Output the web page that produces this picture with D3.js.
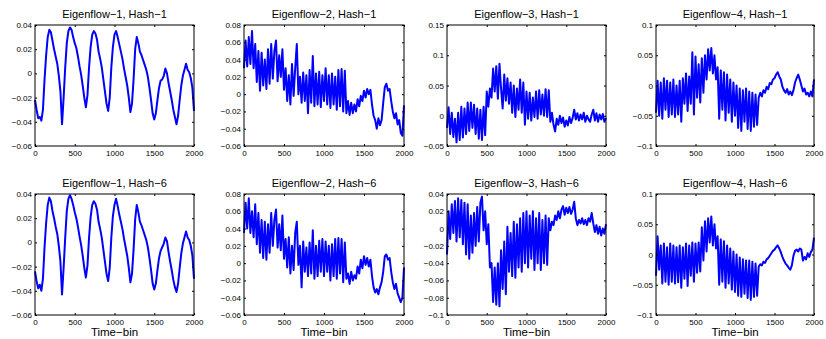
<!DOCTYPE html>
<html lang="en">
<head>
<meta charset="UTF-8">
<title>Eigenflows</title>
<script src="https://d3js.org/d3.v7.min.js"></script>
<style>
  body { margin: 0; background: #fff; }
  text { font-family: Helvetica, Arial, "Liberation Sans", sans-serif; }
</style>
</head>
<body>
<svg id="chart"></svg>
<script>
// one value every 20 time-bins
const binStep = 20;
const xTicks = [0, 500, 1000, 1500, 2000];

const e1h1 = [
  -0.022,-0.030,-0.037,-0.036,-0.039,-0.030,-0.005,0.015,0.030,0.036,
  0.034,0.027,0.020,0.014,0.008,-0.002,-0.015,-0.042,-0.020,0.005,
  0.025,0.035,0.038,0.036,0.030,0.025,0.021,0.014,0.006,-0.001,
  -0.010,-0.020,-0.028,-0.018,0.005,0.022,0.032,0.035,0.033,0.028,
  0.018,0.012,0.005,-0.005,-0.015,-0.025,-0.031,-0.020,0.005,0.022,
  0.032,0.035,0.030,0.024,0.018,0.012,0.004,-0.003,-0.010,-0.020,
  -0.032,-0.025,-0.005,0.020,0.030,0.025,0.018,0.015,0.011,0.007,
  0.003,-0.003,-0.012,-0.022,-0.033,-0.038,-0.033,-0.022,-0.012,-0.006,
  -0.005,-0.002,0.004,0.000,-0.008,-0.015,-0.022,-0.030,-0.036,-0.042,
  -0.035,-0.022,-0.010,-0.002,0.003,0.008,0.003,0.001,-0.004,-0.012,
  -0.031];

const e2h1 = [
  0.030,0.062,0.032,0.066,0.035,0.073,0.030,0.058,0.014,0.050,
  0.004,0.048,0.010,0.040,0.006,0.052,0.012,0.058,0.018,0.050,
  0.062,0.015,0.045,0.020,0.052,0.005,0.030,-0.008,0.022,-0.012,
  0.035,-0.002,0.030,0.058,0.000,0.020,-0.010,0.025,-0.008,0.022,
  -0.022,0.028,-0.010,0.044,-0.014,0.024,-0.012,0.026,-0.015,0.022,
  -0.008,0.030,-0.012,0.022,-0.016,0.024,-0.012,0.020,-0.018,0.028,
  -0.014,0.029,-0.020,0.027,-0.022,-0.008,-0.024,-0.010,-0.022,-0.012,
  -0.020,-0.006,-0.014,-0.002,-0.008,0.004,-0.004,0.006,0.000,0.005,
  -0.012,-0.025,-0.030,-0.040,-0.028,-0.036,-0.030,-0.010,0.008,0.012,
  0.004,0.006,-0.008,-0.020,-0.028,-0.022,-0.035,-0.030,-0.045,-0.048,
  -0.013];

const e3h1 = [
  -0.020,0.014,-0.030,0.005,-0.035,-0.005,-0.044,0.005,-0.040,0.015,
  -0.036,0.012,-0.030,0.022,-0.025,0.022,-0.020,0.018,-0.030,0.012,
  -0.038,0.010,-0.040,0.015,-0.032,0.040,0.015,0.045,0.030,0.078,
  0.040,0.082,0.028,0.086,0.045,0.012,0.068,0.025,0.062,0.020,
  0.055,0.005,0.050,-0.002,0.045,0.010,0.060,0.005,0.055,-0.015,
  0.040,-0.005,0.038,-0.008,0.030,-0.002,0.040,-0.005,0.042,0.002,
  0.035,0.000,0.044,-0.002,0.042,-0.010,0.005,-0.015,-0.026,-0.005,
  -0.015,0.000,-0.012,-0.003,-0.018,-0.008,-0.016,-0.002,-0.012,-0.004,
  0.010,-0.006,0.004,-0.008,0.002,-0.006,0.005,-0.010,0.000,-0.006,
  -0.010,0.002,0.010,-0.008,0.004,-0.010,0.002,-0.006,0.003,-0.010,
  -0.004];

const e4h1 = [
  -0.045,0.008,-0.050,0.005,-0.055,0.012,-0.040,0.008,-0.052,0.005,
  -0.048,0.010,-0.052,0.000,-0.048,0.008,-0.060,0.012,-0.030,0.020,
  -0.042,0.015,-0.030,0.055,-0.048,0.048,-0.020,0.035,-0.028,0.045,
  -0.012,0.050,0.010,0.060,0.025,0.062,0.020,0.050,0.010,0.030,
  -0.055,0.025,-0.040,0.022,-0.058,0.018,-0.045,0.010,-0.060,0.005,
  -0.050,0.000,-0.070,-0.005,-0.075,-0.008,-0.060,-0.005,-0.072,-0.010,
  -0.075,-0.012,-0.068,-0.015,-0.065,-0.020,-0.012,-0.018,-0.008,-0.012,
  -0.002,-0.006,0.004,0.002,0.010,0.012,0.018,0.022,0.015,0.010,
  -0.002,-0.008,-0.012,-0.006,-0.015,-0.010,-0.016,-0.008,0.005,0.012,
  0.018,0.010,0.000,-0.010,-0.005,-0.015,-0.012,-0.018,-0.010,-0.018,
  0.010];

const e1h6 = [
  -0.024,-0.032,-0.038,-0.035,-0.040,-0.030,-0.004,0.016,0.031,0.037,
  0.034,0.026,0.020,0.013,0.007,-0.003,-0.016,-0.043,-0.021,0.004,
  0.026,0.036,0.039,0.036,0.031,0.025,0.020,0.013,0.005,-0.002,
  -0.011,-0.021,-0.029,-0.019,0.004,0.021,0.031,0.034,0.032,0.027,
  0.017,0.011,0.004,-0.006,-0.016,-0.026,-0.032,-0.021,0.004,0.022,
  0.031,0.036,0.030,0.023,0.017,0.011,0.003,-0.004,-0.011,-0.021,
  -0.033,-0.026,-0.006,0.019,0.031,0.025,0.017,0.014,0.010,0.006,
  0.002,-0.004,-0.013,-0.023,-0.034,-0.039,-0.034,-0.023,-0.013,-0.007,
  -0.004,-0.001,0.004,0.001,-0.008,-0.016,-0.023,-0.031,-0.037,-0.041,
  -0.034,-0.021,-0.009,-0.001,0.004,0.009,0.004,0.002,-0.003,-0.011,
  -0.030];

const e2h6 = [
  0.035,0.070,0.040,0.075,0.035,0.060,0.030,0.068,0.022,0.058,
  0.012,0.050,0.006,0.048,0.004,0.045,0.012,0.058,0.020,0.050,
  0.062,0.018,0.045,0.015,0.055,0.005,0.028,-0.005,0.030,-0.012,
  0.020,-0.008,0.035,0.048,-0.002,0.020,-0.028,0.025,-0.010,0.018,
  -0.015,0.024,-0.012,0.038,-0.018,0.020,-0.015,0.026,-0.010,0.028,
  -0.015,0.025,-0.010,0.020,-0.020,0.022,-0.015,0.028,-0.018,0.029,
  -0.012,0.028,-0.022,0.024,-0.018,-0.012,-0.024,-0.010,-0.020,-0.014,
  -0.018,-0.004,-0.012,0.004,-0.006,0.008,-0.002,0.006,-0.004,0.004,
  -0.015,-0.028,-0.034,-0.030,-0.036,-0.028,-0.022,-0.010,0.008,0.010,
  0.004,0.006,-0.010,-0.022,-0.030,-0.024,-0.035,-0.040,-0.045,-0.040,
  -0.005];

const e3h6 = [
  -0.030,0.020,-0.012,0.028,-0.005,0.032,-0.015,0.035,-0.010,0.033,
  -0.018,0.030,-0.030,0.028,-0.035,0.015,-0.028,0.018,-0.020,0.025,
  -0.015,0.030,0.037,-0.002,0.020,-0.018,0.005,-0.045,-0.040,-0.085,
  -0.045,-0.088,-0.040,-0.090,-0.025,-0.070,-0.015,-0.076,0.002,-0.050,
  -0.005,-0.055,0.008,-0.057,0.005,-0.045,0.012,-0.050,0.018,-0.040,
  0.020,-0.045,0.015,-0.035,0.020,-0.048,0.012,-0.040,0.018,-0.048,
  0.010,-0.040,0.015,-0.042,0.012,-0.002,0.008,0.004,0.015,0.010,
  0.020,0.012,0.022,0.026,0.016,0.024,0.018,0.025,0.017,0.022,
  0.031,0.012,0.004,0.010,0.006,0.012,0.005,0.010,0.004,0.012,
  0.008,0.018,0.006,-0.004,0.004,-0.006,0.002,-0.008,0.000,-0.006,
  0.005];

const e4h6 = [
  -0.035,0.030,-0.025,0.015,-0.048,0.018,-0.045,0.012,-0.050,0.018,
  -0.045,0.015,-0.048,0.012,-0.046,0.015,-0.055,0.012,-0.040,0.018,
  -0.052,0.015,-0.035,0.020,-0.045,0.018,-0.030,0.020,-0.028,0.045,
  -0.010,0.055,0.005,0.060,0.020,0.063,0.015,0.050,0.010,0.030,
  -0.050,0.025,-0.045,0.022,-0.055,0.015,-0.048,0.010,-0.058,0.005,
  -0.062,0.000,-0.068,-0.005,-0.070,-0.008,-0.065,-0.010,-0.072,-0.010,
  -0.075,-0.012,-0.070,-0.015,-0.068,-0.020,-0.016,-0.018,-0.012,-0.014,
  -0.008,-0.006,-0.002,0.002,0.006,0.008,0.012,0.015,0.010,0.004,
  -0.004,-0.010,-0.015,-0.018,-0.022,-0.025,-0.018,-0.002,0.006,0.008,
  0.005,0.010,0.008,-0.010,-0.004,-0.008,0.002,-0.004,0.004,0.008,
  0.028];

// y tick values per panel
const ticksE1 = [-0.06, -0.04, -0.02, 0, 0.02, 0.04];
const ticksE2 = [-0.06, -0.04, -0.02, 0, 0.02, 0.04, 0.06, 0.08];
const ticksE3h1 = [-0.05, 0, 0.05, 0.1, 0.15];
const ticksE3h6 = [-0.1, -0.08, -0.06, -0.04, -0.02, 0, 0.02, 0.04];
const ticksE4 = [-0.1, -0.05, 0, 0.05, 0.1];

const titles = [
  ["Eigenflow−1, Hash−1", "Eigenflow−2, Hash−1", "Eigenflow−3, Hash−1", "Eigenflow−4, Hash−1"],
  ["Eigenflow−1, Hash−6", "Eigenflow−2, Hash−6", "Eigenflow−3, Hash−6", "Eigenflow−4, Hash−6"]
];
const series = [[e1h1, e2h1, e3h1, e4h1], [e1h6, e2h6, e3h6, e4h6]];
const yTicks = [[ticksE1, ticksE2, ticksE3h1, ticksE4], [ticksE1, ticksE2, ticksE3h6, ticksE4]];
const xLabel = "Time−bin";

const width = 826, height = 339;
const colLeft = [35, 244, 447, 656];
const colWidth = [159, 160, 159, 158];
const rowTop = [25, 194];
const plotH = 121;

const svg = d3.select("#chart").attr("width", width).attr("height", height);

const fmt = d => d === 0 ? "0" : (d < 0 ? "−" : "") + String(+Math.abs(d).toFixed(3));

for (let r = 0; r < 2; r++) {
  for (let c = 0; c < 4; c++) {
    const vals = series[r][c];
    const yt = yTicks[r][c];
    const w = colWidth[c];
    const g = svg.append("g").attr("transform", `translate(${colLeft[c]},${rowTop[r]})`);

    const x = d3.scaleLinear().domain([0, 2000]).range([0, w]);
    const y = d3.scaleLinear().domain(d3.extent(yt)).range([plotH, 0]);

    // data trace
    const line = d3.line().x((d, i) => x(i * binStep)).y(d => y(d));
    g.append("path")
      .datum(vals)
      .attr("d", line)
      .attr("fill", "none")
      .attr("stroke", "#0000ff")
      .attr("stroke-width", 2)
      .attr("stroke-linejoin", "round");

    // axes, matlab style: ticks inside on all four sides
    const left = g.append("g").call(d3.axisLeft(y).tickValues(yt).tickFormat(fmt).tickSize(-2).tickPadding(3));
    const right = g.append("g").attr("transform", `translate(${w},0)`)
      .call(d3.axisRight(y).tickValues(yt).tickFormat("").tickSize(-2));
    const bottom = g.append("g").attr("transform", `translate(0,${plotH})`)
      .call(d3.axisBottom(x).tickValues(xTicks).tickFormat(d3.format("d")).tickSize(-2).tickPadding(4));
    const top = g.append("g")
      .call(d3.axisTop(x).tickValues(xTicks).tickFormat("").tickSize(-2));

    [left, right, bottom, top].forEach(a => {
      a.select(".domain").remove();
      a.selectAll("line").attr("stroke", "#000");
      a.selectAll("text").attr("font-size", 8).attr("fill", "#000")
        .style("font-family", "Helvetica, Arial, 'Liberation Sans', sans-serif");
    });

    g.append("rect")
      .attr("width", w).attr("height", plotH)
      .attr("fill", "none").attr("stroke", "#000").attr("stroke-width", 1);

    g.append("text")
      .attr("x", w / 2).attr("y", -7)
      .attr("text-anchor", "middle")
      .attr("font-size", 11)
      .text(titles[r][c]);

    if (r === 1) {
      g.append("text")
        .attr("x", w / 2).attr("y", plotH + 21)
        .attr("text-anchor", "middle")
        .attr("font-size", 11.5)
        .text(xLabel);
    }
  }
}
</script>
</body>
</html>
